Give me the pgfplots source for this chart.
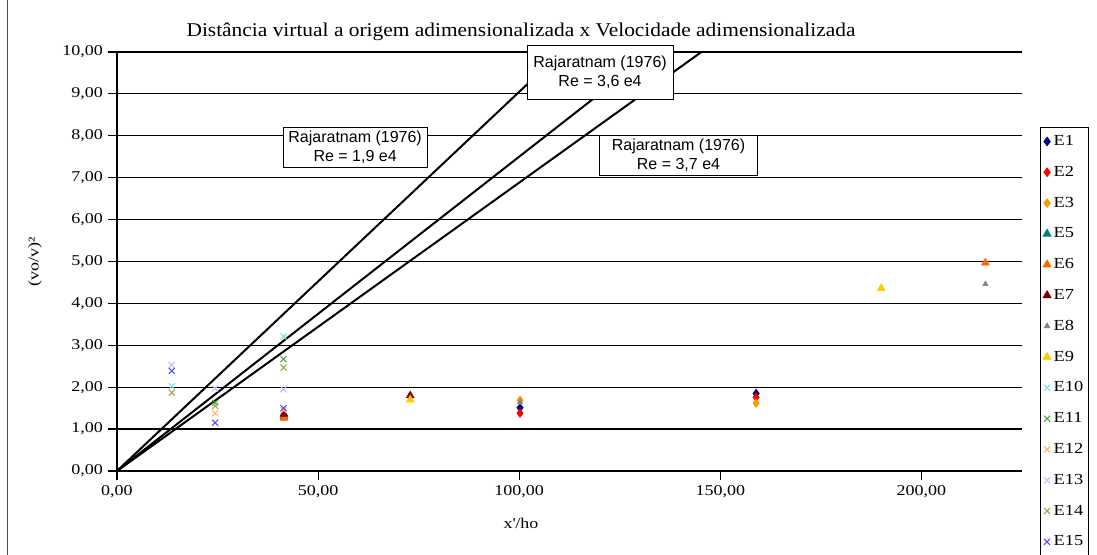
\documentclass[border=0pt]{standalone}
\usepackage{fontspec}
\setmainfont[FakeStretch=1.2]{Liberation Serif}
\newfontfamily\titlefont[FakeStretch=1.1]{Liberation Serif}
\newfontfamily\arial{Liberation Sans}
\usepackage{pgfplots}
\pgfplotsset{compat=1.18}
\definecolor{cE1}{HTML}{000080}
\definecolor{cE2}{HTML}{FF0000}
\definecolor{cE3}{HTML}{FF9900}
\definecolor{cE5}{HTML}{008080}
\definecolor{cE6}{HTML}{FF6600}
\definecolor{cE7}{HTML}{800000}
\definecolor{cE8}{HTML}{808080}
\definecolor{cE9}{HTML}{FFCC00}
\definecolor{cE10}{HTML}{80DDDD}
\definecolor{cE11}{HTML}{4CA64C}
\definecolor{cE12}{HTML}{FFB366}
\definecolor{cE13}{HTML}{D9B3FF}
\definecolor{cE14}{HTML}{A0A050}
\definecolor{cE15}{HTML}{4D4DFF}
\begin{document}
\begin{tikzpicture}
\useasboundingbox (0,0) rectangle (822.75pt,416.25pt);
\draw[line width=0.75pt, black!70] (5.25pt,0) -- (5.25pt,416.25pt);
\begin{axis}[
  at={(87.75pt,63pt)}, anchor=south west,
  scale only axis, width=678.75pt, height=314.25pt,
  xmin=0, xmax=225, ymin=0, ymax=10,
  axis x line*=bottom, axis y line*=left,
  axis line style={black, line width=0.9pt},
  ymajorgrids, grid style={black, line width=0.9pt},
  xtick={0,50,100,150,200}, ytick={0,1,...,10},
  tick align=outside, major tick length=7pt,
  tick style={black, line width=0.9pt},
  every tick label/.append style={font=\fontsize{11.25}{13}\selectfont},
  /pgf/number format/.cd, fixed, fixed zerofill, precision=2, use comma, 1000 sep={}, assume math mode=true,
  /pgfplots/.cd,
  clip mode=individual,
  legend style={at={(1.02,0.821)}, anchor=north west, draw=black, line width=0.6pt,
    font=\fontsize{11.5}{13}\selectfont, row sep=10pt, inner xsep=2pt, inner ysep=4pt},
  legend cell align=left,
]
\addplot[black, line width=1.5pt, forget plot] coordinates {(0,0) (110.5,10)};
\addplot[black, line width=1.5pt, forget plot] coordinates {(0,0) (133.3,10)};
\addplot[black, line width=1.5pt, forget plot] coordinates {(0,0) (145.3,10)};

\addplot[only marks, mark=diamond*, mark size=3.2pt, color=cE1] coordinates {(100.2,1.51) (158.9,1.85) (41.5,1.33)};
\addlegendentry{E1}
\addplot[only marks, mark=diamond*, mark size=3.2pt, color=cE2] coordinates {(100.2,1.38) (158.9,1.76) (41.5,1.31)};
\addlegendentry{E2}
\addplot[only marks, mark=diamond*, mark size=3.2pt, color=cE3] coordinates {(100.2,1.69) (158.9,1.62)};
\addlegendentry{E3}
\addplot[only marks, mark=triangle*, mark size=3.4pt, color=cE5] coordinates {(41.5,1.30)};
\addlegendentry{E5}
\addplot[only marks, mark=triangle*, mark size=3.4pt, color=cE6] coordinates {(215.9,4.97) (41.5,1.26)};
\addlegendentry{E6}
\addplot[only marks, mark=triangle*, mark size=3.4pt, color=cE7] coordinates {(72.9,1.80) (41.5,1.36)};
\addlegendentry{E7}
\addplot[only marks, mark=triangle*, mark size=2.3pt, color=cE8] coordinates {(215.9,4.46) (100.2,1.64)};
\addlegendentry{E8}
\addplot[only marks, mark=triangle*, mark size=3.4pt, color=cE9] coordinates {(190,4.36) (72.9,1.70)};
\addlegendentry{E9}
\addplot[only marks, mark=x, mark size=3.2pt, line width=0.8pt, color=cE10] coordinates {(13.6,2.02) (41.4,3.21)};
\addlegendentry{E10}
\addplot[only marks, mark=x, mark size=3.2pt, line width=0.8pt, color=cE11] coordinates {(24.4,1.63) (41.4,2.67)};
\addlegendentry{E11}
\addplot[only marks, mark=x, mark size=3.2pt, line width=0.8pt, color=cE12] coordinates {(24.4,1.38) (41.4,1.45)};
\addlegendentry{E12}
\addplot[only marks, mark=x, mark size=3.2pt, line width=0.8pt, color=cE13] coordinates {(13.6,2.53) (24.4,1.97) (41.4,1.95)};
\addlegendentry{E13}
\addplot[only marks, mark=x, mark size=3.2pt, line width=0.8pt, color=cE14] coordinates {(13.6,1.87) (24.4,1.55) (41.4,2.47)};
\addlegendentry{E14}
\addplot[only marks, mark=x, mark size=3.2pt, line width=0.8pt, color=cE15] coordinates {(13.6,2.39) (24.4,1.15) (41.4,1.50)};
\addlegendentry{E15}

\node[draw=black, fill=white, line width=0.6pt, align=center, font=\arial\fontsize{12}{14}\selectfont, minimum width=108pt, minimum height=30pt, inner sep=1pt] at (axis cs:59.2,7.73) {Rajaratnam (1976)\\Re = 1,9 e4};
\node[draw=black, fill=white, line width=0.6pt, align=center, font=\arial\fontsize{12}{14}\selectfont, minimum width=109.5pt, minimum height=40.5pt, inner sep=1pt] at (axis cs:120.1,9.52) {Rajaratnam (1976)\\Re = 3,6 e4};
\node[draw=black, fill=white, line width=0.6pt, align=center, font=\arial\fontsize{12}{14}\selectfont, minimum width=118pt, minimum height=30pt, inner sep=1pt] at (axis cs:139.6,7.54) {Rajaratnam (1976)\\Re = 3,7 e4};
\end{axis}
\node[font=\titlefont\fontsize{14.6}{16}\selectfont] at (390.75pt,392.25pt) {Distância virtual a origem adimensionalizada x Velocidade adimensionalizada};
\node[font=\fontsize{11.25}{13}\selectfont] at (390.75pt,24pt) {x\textquotesingle/ho};
\node[font=\fontsize{11.25}{13}\selectfont, rotate=90] at (26.25pt,219.75pt) {(vo/v)²};
\end{tikzpicture}
\end{document}
